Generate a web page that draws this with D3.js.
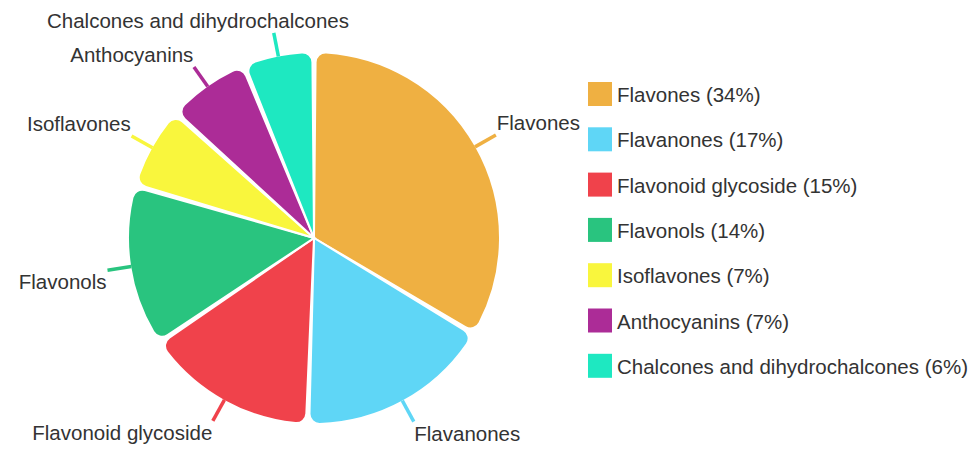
<!DOCTYPE html>
<html>
<head>
<meta charset="utf-8">
<script src="https://cdn.jsdelivr.net/npm/d3@7"></script>
<style>
  html, body { margin: 0; padding: 0; background: #fff; }
  svg { display: block; }
  text { font-family: "Liberation Sans", Arial, Helvetica, sans-serif; fill: #333; }
</style>
</head>
<body>
<svg id="chart" width="970" height="450"></svg>
<script>
const categories = ["Flavones", "Flavanones", "Flavonoid glycoside", "Flavonols", "Isoflavones", "Anthocyanins", "Chalcones and dihydrochalcones"];
const values = [34, 17, 15, 14, 7, 7, 6];
const colors = ["#EFB042", "#5FD6F6", "#F0424B", "#29C47F", "#F9F63D", "#AC2C97", "#1EE8C1"];

const data = categories.map((c, i) => ({ name: c, value: values[i], color: colors[i] }));
const svg = d3.select("#chart");
const cx = 314, cy = 238, R = 186;

const pie = d3.pie().value(d => d.value).sort(null).padAngle(0.018);
const arcs = pie(data);
const arc = d3.arc().innerRadius(0).outerRadius(R).cornerRadius(10);

const g = svg.append("g").attr("transform", `translate(${cx},${cy})`);

g.selectAll("path.slice").data(arcs).enter().append("path")
  .attr("class", "slice")
  .attr("d", arc)
  .attr("fill", d => d.data.color)
  .attr("stroke", "#fff")
  .attr("stroke-width", 2);

function dir(d) {
  const a = (d.startAngle + d.endAngle) / 2;
  return [Math.sin(a), -Math.cos(a)];
}

// tick lines
g.selectAll("line.tick").data(arcs).enter().append("line")
  .attr("class", "tick")
  .attr("x1", d => dir(d)[0] * (R - 1))
  .attr("y1", d => dir(d)[1] * (R - 1))
  .attr("x2", d => dir(d)[0] * (R + 23))
  .attr("y2", d => dir(d)[1] * (R + 23))
  .attr("stroke", d => d.data.color)
  .attr("stroke-width", 3.5);

// labels: text box touches the point at radius R+24 along the slice's mid direction
const fontSize = 20.5;
const ascent = 0.905 * fontSize, descent = 0.212 * fontSize;
const labels = g.selectAll("text.lbl").data(arcs).enter().append("text")
  .attr("class", "lbl")
  .style("font-size", fontSize + "px")
  .text(d => d.data.name);

const clamp = v => Math.max(0, Math.min(1, v));
labels.each(function(d) {
  const w = this.getComputedTextLength();
  const h = ascent + descent;
  const [dx, dy] = dir(d);
  const px = dx * (R + 24), py = dy * (R + 24);
  const fx = clamp(0.5 - dx * 1.3), fy = clamp(0.5 - dy * 4);
  const left = px - fx * w;
  const top = py - fy * h;
  d3.select(this).attr("x", left).attr("y", top + ascent);
});

// legend
const legend = svg.append("g").attr("transform", "translate(588,82)");
const rowH = 45.3;
const items = legend.selectAll("g").data(data).enter().append("g")
  .attr("transform", (d, i) => `translate(0,${i * rowH})`);
items.append("rect").attr("width", 24).attr("height", 24).attr("fill", d => d.color);
items.append("text").attr("x", 29).attr("y", 20)
  .style("font-size", fontSize + "px")
  .text(d => `${d.name} (${d.value}%)`);
</script>
</body>
</html>
